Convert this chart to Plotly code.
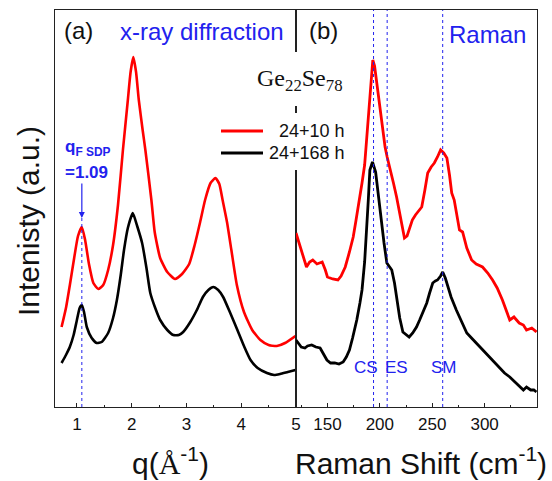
import plotly.graph_objects as go

# ---------------- data (arbitrary intensity units) -------------
xrd_q = [0.72, 0.80, 0.88, 0.95, 1.02, 1.09, 1.15, 1.22, 1.30, 1.39, 1.48, 1.57, 1.66,
         1.75, 1.84, 1.93, 1.98, 2.03, 2.08, 2.13, 2.20, 2.25, 2.36, 2.42, 2.52, 2.65,
         2.79, 2.92, 3.05, 3.15, 3.25, 3.34, 3.44, 3.53, 3.60, 3.66, 3.74, 3.82, 3.92,
         4.05, 4.20, 4.35, 4.50, 4.65, 4.80, 4.99]
xrd_red = [80, 99, 125, 149, 171, 180, 167, 143, 124, 118, 122, 137, 162,
           202, 257, 307, 335, 350, 335, 307, 277, 257, 207, 175, 149, 135,
           128, 133, 143, 162, 185, 207, 224, 229, 223, 207, 185, 157, 122,
           95, 77, 67, 62, 61, 64, 71]

xrd_q_b = [0.72, 0.80, 0.87, 0.94, 1.00, 1.05, 1.09, 1.13, 1.18, 1.27, 1.36, 1.45, 1.57,
           1.66, 1.73, 1.80, 1.86, 1.93, 2.02, 2.10, 2.19, 2.27, 2.34, 2.43, 2.52, 2.65,
           2.76, 2.86, 2.94, 3.07, 3.19, 3.30, 3.40, 3.49, 3.58, 3.67, 3.80, 3.93, 4.05,
           4.17, 4.30, 4.47, 4.60, 4.71, 4.85, 4.99]
xrd_black = [44, 52, 60, 72, 87, 99, 102, 95, 80, 69, 64, 65, 74,
             89, 107, 132, 157, 179, 194, 181, 164, 139, 114, 99, 87, 77,
             72, 72, 75, 85, 97, 110, 117, 120, 117, 110, 94, 77, 61,
             47, 39, 34, 32, 33, 35, 37]

raman_x_r = [120, 124, 128, 130, 133, 136, 140, 145, 148, 150, 155, 160, 163, 167, 171,
             174.6, 177, 180, 183, 185.5, 187.5, 189.5, 191.5, 193.3, 195, 198, 201, 203,
             205, 207, 209.5, 213, 216, 220, 223.5, 226, 229, 231, 234, 236, 240, 243,
             245.7, 249, 252, 255, 258, 261, 264, 266.5, 268.6, 271, 274, 276, 279, 283,
             287.6, 292, 298, 303, 307.6, 312, 317, 320, 324, 328, 333, 337, 340, 345, 349.5]
raman_red = [174, 160, 145, 140, 145, 147, 143, 145, 137, 130, 128, 127, 131, 140, 155,
             170, 185, 207, 224, 242, 269, 300, 329, 347, 341, 317, 292, 277,
             260, 250, 240, 224, 210, 189, 169, 171, 181, 187, 192, 195, 200, 217,
             234, 240, 244, 250, 257, 254, 249, 232, 214, 207, 189, 177, 175, 159,
             147, 143, 140, 134, 127, 119, 107, 99, 87, 90, 84, 82, 77, 79, 75]

raman_x_b = [120, 122, 125, 128.5, 131, 135, 139, 143, 146, 149.5, 153, 157, 161, 165, 168,
             171, 174, 178, 181, 183, 185.5, 187.6, 189, 190.5, 193, 196, 198, 200, 202,
             204, 206.7, 209, 211.4, 214, 216, 219, 222, 225.7, 228, 231.4, 235, 238, 241,
             244.8, 247.5, 250.5, 253, 255, 258, 260, 262.5, 264.8, 268, 273, 278, 283,
             287.5, 292, 298, 305, 310, 314, 319, 324, 329, 333, 337, 340, 344, 347, 349.5]
raman_black = [67, 64, 60, 59, 61, 62, 60, 59, 54, 47, 44, 44, 43, 45, 50,
               57, 69, 87, 104, 117, 145, 177, 207, 237, 245, 235, 217, 197, 185,
               164, 144, 140, 137, 124, 110, 89, 75, 72, 70, 74, 80, 87, 95,
               104, 114, 124, 126, 127, 131, 135, 129, 120, 110, 97, 85, 74,
               69, 64, 57, 50, 44, 40, 34, 30, 25, 21, 17, 20, 17, 17, 15]

series_names = ["24+10 h", "24+168 h"]
q_fsdp = 1.09
raman_modes = ["CS", "ES", "SM"]
raman_mode_pos = [194, 207, 260]
xrd_ticks = [1, 2, 3, 4, 5]
raman_ticks = [150, 200, 250, 300]

# ---------------- layout helpers --------------------------------------------------------
W, H = 552, 481
L, R, T, B = 55, 537, 10, 407
def px(x):
    return (x - L) / (R - L)
def py(y):
    return (B - y) / (B - T)

SANS = "Liberation Sans, Arial, sans-serif"
SERIF = "Liberation Serif, Times New Roman, serif"
BLUE = "#2222ee"

fig = go.Figure()
fig.add_trace(go.Scatter(x=xrd_q, y=xrd_red, mode="lines", name=series_names[0],
                         line=dict(color="#ff0000", width=2.6, shape="spline", smoothing=0.5),
                         xaxis="x", yaxis="y", showlegend=False))
fig.add_trace(go.Scatter(x=xrd_q_b, y=xrd_black, mode="lines", name=series_names[1],
                         line=dict(color="#000000", width=2.6, shape="spline", smoothing=0.5),
                         xaxis="x", yaxis="y", showlegend=False))
fig.add_trace(go.Scatter(x=raman_x_r, y=raman_red, mode="lines", name=series_names[0],
                         line=dict(color="#ff0000", width=2.8),
                         xaxis="x2", yaxis="y2", showlegend=False))
fig.add_trace(go.Scatter(x=raman_x_b, y=raman_black, mode="lines", name=series_names[1],
                         line=dict(color="#000000", width=2.8),
                         xaxis="x2", yaxis="y2", showlegend=False))

axis_common = dict(showline=True, linecolor="#222", linewidth=1.3, mirror=True,
                   showgrid=False, zeroline=False)
fig.update_layout(
    width=W, height=H,
    margin=dict(l=L, r=W - R, t=T, b=H - B, pad=0),
    paper_bgcolor="white", plot_bgcolor="white",
    xaxis=dict(domain=[0, 0.5], range=[0.6, 5.0], tickvals=xrd_ticks,
               ticks="inside", ticklen=4, tickcolor="#222",
               minor=dict(dtick=0.5, ticks="inside", ticklen=2, tickcolor="#222"),
               tickfont=dict(family=SANS, size=17, color="#111"),
               ticklabelstandoff=1, anchor="y", **axis_common),
    xaxis2=dict(domain=[0.5, 1], range=[120, 350], tickvals=raman_ticks,
                ticks="inside", ticklen=4, tickcolor="#222",
                minor=dict(dtick=25, ticks="inside", ticklen=2, tickcolor="#222"),
                tickfont=dict(family=SANS, size=17, color="#111"),
                ticklabelstandoff=1, anchor="y2", **axis_common),
    yaxis=dict(domain=[0, 1], range=[0, B - T], showticklabels=False, ticks="",
               anchor="x", **axis_common),
    yaxis2=dict(domain=[0, 1], range=[0, B - T], showticklabels=False, ticks="",
                anchor="x2", **axis_common),
)

shapes = []
# dashed marker lines
shapes.append(dict(type="line", xref="x", yref="y", x0=q_fsdp, x1=q_fsdp, y0=0, y1=B - 218,
                   line=dict(color=BLUE, width=1, dash="3px,3px")))
for pos in raman_mode_pos:
    shapes.append(dict(type="line", xref="x2", yref="y2", x0=pos, x1=pos, y0=0, y1=B - T,
                       line=dict(color=BLUE, width=1, dash="3px,3px")))
# white boxes interrupting the panel divider behind the title and legend
shapes.append(dict(type="rect", xref="paper", yref="paper", x0=px(292), x1=px(300),
                   y0=py(106), y1=py(52), fillcolor="white", line=dict(width=0), layer="above"))
shapes.append(dict(type="rect", xref="paper", yref="paper", x0=px(292), x1=px(300),
                   y0=py(170), y1=py(113), fillcolor="white", line=dict(width=0), layer="above"))
# legend samples
shapes.append(dict(type="line", xref="paper", yref="paper", x0=px(221), x1=px(263),
                   y0=py(131), y1=py(131), line=dict(color="#ff0000", width=3), layer="above"))
shapes.append(dict(type="line", xref="paper", yref="paper", x0=px(221), x1=px(263),
                   y0=py(153), y1=py(153), line=dict(color="#000000", width=3), layer="above"))
fig.update_layout(shapes=shapes)

def ann(text, x, y, size, color="#111", xanchor="center", yanchor="middle", family=SANS, **kw):
    fig.add_annotation(text=text, xref="paper", yref="paper", x=px(x), y=py(y),
                       xanchor=xanchor, yanchor=yanchor, showarrow=False,
                       font=dict(family=family, size=size, color=color), **kw)

ann("(a)", 62, 31, 24, xanchor="left")
ann("x-ray diffraction", 118, 32, 24, color=BLUE, xanchor="left")
ann("(b)", 307, 31, 24, xanchor="left")
ann("Raman", 447, 34, 24, color=BLUE, xanchor="left")
ann("Ge<sub>22</sub>Se<sub>78</sub>", 300, 80, 24, family=SERIF)
ann(series_names[0], 347, 131, 18, xanchor="right")
ann(series_names[1], 347, 153, 18, xanchor="right")
ann("<b>q<sub>F SDP</sub></b>", 63, 148, 17, color=BLUE, xanchor="left")
ann("<b>=1.09</b>", 63, 172, 17, color=BLUE, xanchor="left")
for name, cx in zip(raman_modes, [366, 396, 444]):
    ann(name, cx, 367, 17, color=BLUE)
ann("Intenisty (a.u.)", 28, 221, 30, textangle=-90)
ann("q(<span style=\"font-family:'Liberation Serif'\">Å</span><sup>-1</sup>)", 170, 461, 30)
ann("Raman Shift (cm<sup>-1</sup>)", 421, 461, 30)

# arrow pointing at the FSDP
fig.add_annotation(x=q_fsdp, y=B - 218, xref="x", yref="y", ax=0, ay=-36, text="",
                   showarrow=True, arrowhead=2, arrowsize=1, arrowwidth=1.2, arrowcolor=BLUE)

fig.write_html("out.html")
